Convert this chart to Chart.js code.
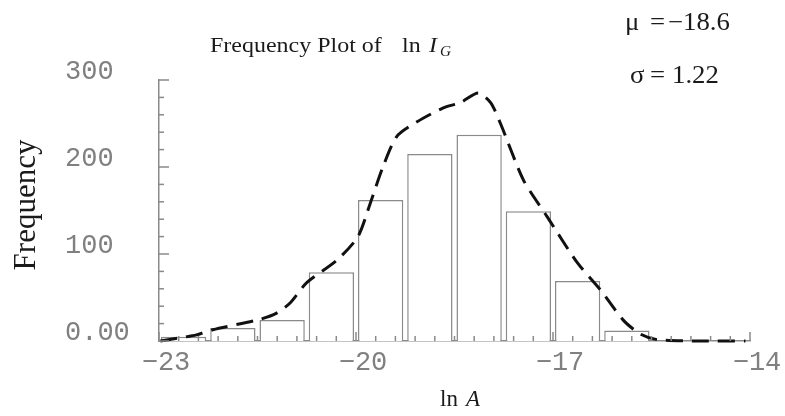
<!DOCTYPE html>
<html><head><meta charset="utf-8">
<script src="https://cdn.jsdelivr.net/npm/chart.js@4.4.1/dist/chart.umd.min.js"></script>
<style>html,body{margin:0;padding:0;background:#fff;}#wrap{width:785px;height:416px;}</style>
</head><body><div id="wrap"><canvas id="c" width="785" height="416"></canvas></div>
<script>
// ---- data ----
const binCenters = [-22.625,-21.875,-21.125,-20.375,-19.625,-18.875,-18.125,-17.375,-16.625,-15.875];
const binCounts  = [5,15,24,79,162,215,237,149,69,12];
const curveX = [-22.98,-22.65,-22.43,-22.18,-21.46,-21.21,-21.0,-20.75,-20.29,-19.97,-19.78,-19.59,-19.38,-19.07,-18.67,-18.41,-18.14,-17.95,-17.80,-17.45,-17.09,-16.63,-16.28,-15.93,-15.67,-15.41,-14.75,-14.07];
const curveY = [0,4,7,13,25,32,44,67,93,120,159,200,235,252,268,274,285,274,250,185,143,90,59,24,8,1.5,0,0];
const xMajorTicks = [-23,-20,-17,-14];
const xTickLabels = ['\u221223','\u221220','\u221217','\u221214'];
const yMajorTicks = [0,100,200,300];
const yTickLabels = ['0.00','100','200','300'];
const xMinorStep = 0.3;
const yMinorStep = 20;
const binWidth = 0.75;

const barData = binCenters.map((x,i)=>({x:x, y:binCounts[i]}));
const lineData = curveX.map((x,i)=>({x:x, y:curveY[i]}));

function isMajor(list, v){ return list.findIndex(m=>Math.abs(m-v)<1e-6); }

const inwardTicks = {
  id:'inwardTicks',
  afterDraw(chart){
    const ctx = chart.ctx;
    ctx.save();
    ctx.strokeStyle = '#8a8a8a';
    ctx.lineWidth = 1.5;
    const xs = chart.scales.x, ys = chart.scales.y;
    const y0 = ys.getPixelForValue(0);
    xs.ticks.forEach(t=>{
      const px = xs.getPixelForValue(t.value);
      const len = isMajor(xMajorTicks, t.value)>=0 ? 9 : 5;
      ctx.beginPath(); ctx.moveTo(px, y0); ctx.lineTo(px, y0-len); ctx.stroke();
    });
    const x0 = xs.getPixelForValue(xs.min);
    ys.ticks.forEach(t=>{
      const py = ys.getPixelForValue(t.value);
      const len = isMajor(yMajorTicks, t.value)>=0 ? 10 : 5;
      ctx.beginPath(); ctx.moveTo(x0, py); ctx.lineTo(x0+len, py); ctx.stroke();
    });
    ctx.restore();
  }
};

function drawParts(ctx, y, parts, sx){
  parts.forEach(p=>{
    ctx.save();
    ctx.translate(p.x, y + (p.dy||0));
    ctx.scale(sx,1);
    ctx.font = p.font;
    ctx.fillText(p.t, 0, 0);
    ctx.restore();
  });
}

const texts = {
  id:'texts',
  afterDraw(chart){
    const ctx = chart.ctx;
    ctx.save();
    ctx.fillStyle = '#1a1a1a';
    ctx.textBaseline = 'alphabetic';
    ctx.textAlign = 'left';
    const serif = '"Liberation Serif", "Times New Roman", serif';
    drawParts(ctx, 52, [
      {t:'Frequency Plot of', x:210, font:'22px '+serif},
      {t:'ln', x:402, font:'22px '+serif},
      {t:'I', x:429, font:'italic 22px '+serif},
      {t:'G', x:440, dy:4, font:'italic 14px '+serif}
    ], 1.09);
    drawParts(ctx, 30, [
      {t:'\u03bc', x:625, font:'25px '+serif},
      {t:'=', x:650, font:'25px '+serif},
      {t:'\u221218.6', x:668, font:'25px '+serif}
    ], 1.07);
    drawParts(ctx, 83, [
      {t:'\u03c3', x:630, font:'25px '+serif},
      {t:'=', x:650, font:'25px '+serif},
      {t:'1.22', x:672, font:'25px '+serif}
    ], 1.07);
    drawParts(ctx, 406, [
      {t:'ln', x:440, font:'23px '+serif},
      {t:'A', x:466, font:'italic 23px '+serif}
    ], 1.0);
    ctx.save();
    ctx.translate(35, 205);
    ctx.rotate(-Math.PI/2);
    ctx.textAlign = 'center';
    ctx.font = '31px '+serif;
    ctx.fillText('Frequency', 0, 0);
    ctx.restore();
    ctx.restore();
  }
};

const tickFont = {family:'"Liberation Mono", "DejaVu Sans Mono", monospace', size:27};

new Chart(document.getElementById('c'), {
  data:{
    datasets:[
      {type:'line', data:lineData, borderColor:'#111', borderWidth:3, borderDash:[17,9],
       pointRadius:0, tension:0.25, fill:false, order:0, clip:false},
      {type:'bar', data:barData, backgroundColor:'#ffffff', borderColor:'#8a8a8a', borderWidth:1.5,
       barPercentage:0.92, categoryPercentage:binWidth/xMinorStep, order:1}
    ]
  },
  options:{
    responsive:false, animation:false, devicePixelRatio:1,
    layout:{padding:{left:65, right:35, top:80, bottom:0}, autoPadding:false},
    plugins:{legend:{display:false}, tooltip:{enabled:false}, title:{display:false}},
    scales:{
      x:{type:'linear', min:-23, max:-14, offset:false,
        afterBuildTicks:(s)=>{const t=[]; const n=Math.round((s.max-s.min)/xMinorStep); for(let i=0;i<=n;i++) t.push({value:Math.round((s.min+i*xMinorStep)*1000)/1000}); s.ticks=t;},
        afterFit:(s)=>{s.height=75;},
        grid:{display:false, drawTicks:false, offset:false},
        border:{display:true, color:'#8a8a8a', width:1.5},
        ticks:{autoSkip:false, maxRotation:0, minRotation:0, padding:6, labelOffset:7, color:'#808080', font:tickFont,
          callback:(v)=>{const k=isMajor(xMajorTicks, v); return k>=0?xTickLabels[k]:'';}}
      },
      y:{type:'linear', min:0, max:300,
        afterBuildTicks:(s)=>{const t=[]; for(let v=s.min; v<=s.max+1e-9; v+=yMinorStep) t.push({value:v}); s.ticks=t;},
        afterFit:(s)=>{s.width=94;},
        grid:{display:false, drawTicks:false},
        border:{display:true, color:'#8a8a8a', width:1.5},
        ticks:{autoSkip:false, crossAlign:'far', padding:0, labelOffset:-8, color:'#808080', font:tickFont,
          callback:(v)=>{const k=isMajor(yMajorTicks, v); return k>=0?yTickLabels[k]:'';}}
      }
    }
  },
  plugins:[inwardTicks, texts]
});
</script>
</body></html>
